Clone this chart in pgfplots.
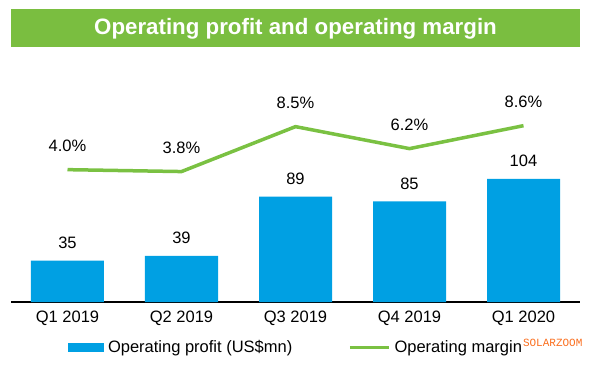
\documentclass[border=0pt]{standalone}
\usepackage{pgfplots}
\pgfplotsset{compat=1.18}
\usepackage{fontspec}
\setmainfont{Liberation Sans}
\newfontfamily\wmfont{Liberation Mono}
\definecolor{barblue}{RGB}{0,160,227}
\definecolor{linegreen}{RGB}{122,193,66}
\definecolor{bannergreen}{RGB}{122,190,64}
\definecolor{wmorange}{RGB}{250,110,30}
\pgfplotstableread{
x y
0 35
1 39
2 89
3 85
4 104
}\profit
\pgfplotstableread{
x y lab
0 4.0 4.0\%
1 3.8 3.8\%
2 8.5 8.5\%
3 6.2 6.2\%
4 8.6 8.6\%
}\margin
\begin{document}
\begin{tikzpicture}
\path[use as bounding box] (0,0) rectangle (600pt,370pt);
\fill[bannergreen] (11pt,323.3pt) rectangle (580.3pt,360.7pt);
\node[text=white, anchor=base, inner sep=0pt, font=\fontsize{22.3}{26}\selectfont\bfseries] at (295.5pt,335.3pt) {Operating profit and operating margin};
\begin{axis}[
  at={(11pt,68pt)}, anchor=south west,
  scale only axis, width=569pt, height=242pt,
  xmin=-0.4956, xmax=4.4956, ymin=0, ymax=204.6,
  axis x line*=bottom, axis y line=none,
  x axis line style={line width=1.5pt, black, -},
  xtick={0,1,2,3,4},
  xticklabels={Q1 2019,Q2 2019,Q3 2019,Q4 2019,Q1 2020},
  major tick length=0pt,
  xticklabel style={font=\fontsize{16.5}{19}\selectfont, inner sep=0pt, anchor=north, yshift=-8.5pt},
  ytick=\empty,
  clip=false,
  /pgf/number format/assume math mode=true,
  legend columns=2,
  legend style={draw=none, fill=none, inner sep=0pt, outer sep=0pt,
    font=\fontsize{16.5}{19}\selectfont,
    nodes={inner sep=0pt},
    at={(axis description cs:0.1002,-0.188)}, anchor=west,
    /tikz/every odd column/.append style={column sep=4pt},
    /tikz/every even column/.append style={column sep=55.7pt}},
]
\addplot[ybar, bar width=73pt, fill=barblue, draw=none,
  nodes near coords,
  every node near coord/.append style={font=\fontsize{16.5}{19}\selectfont, inner sep=0pt, anchor=south, yshift=12pt, text=black},
  legend image code/.code={\fill[barblue] (0pt,-4.2pt) rectangle (36pt,4.2pt);}
] table[x=x,y=y] {\profit};
\addlegendentry{Operating profit (US\$mn)}
\addlegendimage{legend image code/.code={\draw[linegreen, line width=3.5pt] (0pt,0pt) -- (39pt,0pt);}}
\addlegendentry{Operating margin}
\end{axis}
\begin{axis}[
  at={(11pt,68pt)}, anchor=south west,
  scale only axis, width=569pt, height=242pt,
  xmin=-0.4956, xmax=4.4956, ymin=-9.843, ymax=15.47,
  hide axis, clip=false,
]
\addplot[linegreen, line width=3.5pt, line join=round, mark=none,
  nodes near coords, point meta=explicit symbolic,
  every node near coord/.append style={font=\fontsize{16.5}{19}\selectfont, inner sep=0pt, anchor=south, yshift=16pt, text=black}
] table[x=x,y=y,meta=lab] {\margin};
\end{axis}
\node[text=wmorange, inner sep=0pt, font=\wmfont\fontsize{11}{13}\selectfont] at (552.7pt,27.3pt) {SOLARZOOM};
\end{tikzpicture}
\end{document}
